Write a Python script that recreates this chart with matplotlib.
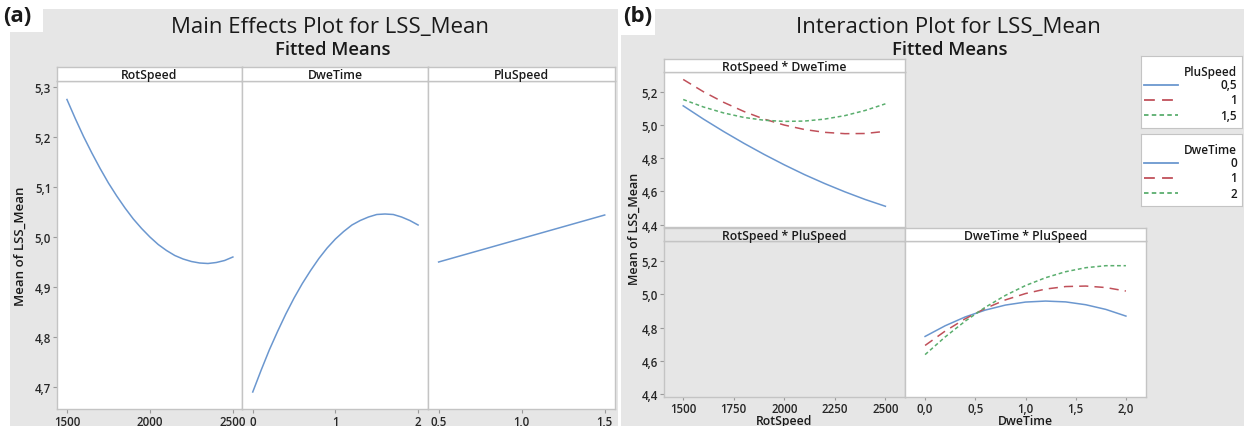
import matplotlib.pyplot as plt
from matplotlib.patches import Rectangle
from matplotlib.lines import Line2D
from matplotlib.ticker import FixedLocator, FuncFormatter

# ---- data ----
rot_x = [1500, 1600, 1700, 1800, 1900, 2000, 2100, 2200, 2300, 2400, 2500]
dwe_x = [0.0, 0.2, 0.4, 0.6, 0.8, 1.0, 1.2, 1.4, 1.6, 1.8, 2.0]
plu_x = [0.5, 1.0, 1.5]

# main effects (fitted means), read at finer steps
main_rot_x = [1500, 1550, 1600, 1650, 1700, 1750, 1800, 1850, 1900, 1950, 2000,
              2050, 2100, 2150, 2200, 2250, 2300, 2350, 2400, 2450, 2500]
main_rot = [5.275, 5.237, 5.201, 5.168, 5.137, 5.108, 5.082, 5.058, 5.036, 5.017, 5.000,
            4.985, 4.973, 4.963, 4.956, 4.951, 4.948, 4.947, 4.949, 4.953, 4.960]
main_dwe_x = [0.0, 0.1, 0.2, 0.3, 0.4, 0.5, 0.6, 0.7, 0.8, 0.9, 1.0,
              1.1, 1.2, 1.3, 1.4, 1.5, 1.6, 1.7, 1.8, 1.9, 2.0]
main_dwe = [4.690, 4.733, 4.774, 4.811, 4.846, 4.878, 4.907, 4.933, 4.957, 4.978, 4.996,
            5.011, 5.024, 5.033, 5.040, 5.045, 5.046, 5.045, 5.040, 5.033, 5.024]
main_plu = [4.950, 4.997, 5.044]

# RotSpeed * DweTime (one curve per DweTime level)
dwe_levels = ['0', '1', '2']
rot_dwe = [
    [5.116, 5.036, 4.961, 4.890, 4.823, 4.760, 4.701, 4.647, 4.597, 4.551, 4.510],
    [5.275, 5.201, 5.137, 5.082, 5.036, 5.000, 4.973, 4.956, 4.948, 4.949, 4.962],
    [5.154, 5.109, 5.073, 5.046, 5.029, 5.022, 5.024, 5.036, 5.057, 5.088, 5.128],
]
# DweTime * PluSpeed (one curve per PluSpeed level)
plu_levels = ['0,5', '1', '1,5']
dwe_plu = [
    [4.748, 4.812, 4.865, 4.906, 4.936, 4.954, 4.960, 4.955, 4.938, 4.910, 4.870],
    [4.694, 4.780, 4.854, 4.916, 4.967, 5.005, 5.032, 5.047, 5.050, 5.041, 5.020],
    [4.639, 4.745, 4.840, 4.923, 4.994, 5.053, 5.100, 5.136, 5.160, 5.172, 5.172],
]

main_yticks = [4.7, 4.8, 4.9, 5.0, 5.1, 5.2, 5.3]
int_yticks = [4.4, 4.6, 4.8, 5.0, 5.2]
rot_ticks_main = [1500, 2000, 2500]
dwe_ticks_main = [0, 1, 2]
plu_ticks_main = [0.5, 1.0, 1.5]
rot_ticks_int = [1500, 1750, 2000, 2250, 2500]
dwe_ticks_int = [0.0, 0.5, 1.0, 1.5, 2.0]

# ---- styling ----
W, H = 1244, 427
BG = '#e6e6e6'
EDGE = '#c4c4c4'
BLUE = '#6b97cf'
RED = '#c0505a'
GREEN = '#5aae6e'
styles = [dict(color=BLUE, ls='-'),
          dict(color=RED, ls=(0, (6, 4))),
          dict(color=GREEN, ls=(0, (2.5, 1.8)))]

plt.rcParams['font.family'] = ['Open Sans', 'DejaVu Sans']
plt.rcParams['text.color'] = '#1a1a1a'
plt.rcParams['lines.solid_joinstyle'] = 'round'
plt.rcParams['lines.dash_joinstyle'] = 'round'

fig = plt.figure(figsize=(W / 100, H / 100), dpi=100)
fig.patch.set_facecolor('white')


def box(x0, y0, x1, y1):
    return [x0 / W, 1 - y1 / H, (x1 - x0) / W, (y1 - y0) / H]


def frect(x0, y0, x1, y1, fc, z):
    fig.patches.append(Rectangle((x0 / W, 1 - y1 / H), (x1 - x0) / W, (y1 - y0) / H,
                                 transform=fig.transFigure, fc=fc, ec='none', zorder=z))


def comma(dec):
    return FuncFormatter(lambda v, _: f'{v:.{dec}f}'.replace('.', ','))


def bold_ticks(ax):
    for t in ax.get_xticklabels() + ax.get_yticklabels():
        t.set_fontweight('semibold')


def panel(x0, x1, y0, y1, strip_top, title, face='white', strip_face='white'):
    ax = fig.add_axes(box(x0, y0, x1, y1))
    ax.set_facecolor(face)
    for s in ax.spines.values():
        s.set_color(EDGE)
        s.set_linewidth(1.0)
    ax.tick_params(direction='out', length=3, width=0.8, color='#9a9a9a',
                   labelsize=8.3, pad=1.2, labelcolor='#262626')
    sa = fig.add_axes(box(x0, strip_top, x1, y0))
    sa.set_facecolor(strip_face)
    sa.set_xticks([])
    sa.set_yticks([])
    for s in sa.spines.values():
        s.set_color(EDGE)
        s.set_linewidth(1.0)
    sa.text(0.5, 0.45, title, ha='center', va='center', fontsize=8.8,
            fontweight='semibold', transform=sa.transAxes)
    return ax


# backgrounds (behind all axes)
frect(10, 10, 618, 427, BG, -3)
frect(0, 0, 43, 33, 'white', -2)
frect(621, 10, 1244, 427, BG, -3)
frect(621, 0, 655, 36, 'white', -2)
fig.text(3 / W, 1 - 17 / H, '(a)', fontsize=16, fontweight='bold', va='center')
fig.text(623 / W, 1 - 17 / H, '(b)', fontsize=16, fontweight='bold', va='center')

# ---- (a) main effects ----
fig.text(330 / W, 1 - 28 / H, 'Main Effects Plot for LSS_Mean', ha='center', va='center', fontsize=16)
fig.text(333 / W, 1 - 50 / H, 'Fitted Means', ha='center', va='center', fontsize=13.3,
         fontweight='semibold')
fig.text(20 / W, 1 - 246 / H, 'Mean of LSS_Mean', ha='center', va='center', rotation=90,
         fontsize=9.5, fontweight='semibold')

main_specs = [
    (57, 242, 'RotSpeed', main_rot_x, main_rot, (1440, 2555), rot_ticks_main, FuncFormatter(lambda v, _: f'{v:.0f}')),
    (242, 428, 'DweTime', main_dwe_x, main_dwe, (-0.13, 2.12), dwe_ticks_main, FuncFormatter(lambda v, _: f'{v:.0f}')),
    (428, 615, 'PluSpeed', plu_x, main_plu, (0.436, 1.562), plu_ticks_main, comma(1)),
]
for i, (x0, x1, name, xs, ys, xl, xt, fmt) in enumerate(main_specs):
    ax = panel(x0, x1, 82, 410, 68, name)
    ax.plot(xs, ys, color=BLUE, lw=1.1)
    ax.set_xlim(*xl)
    ax.set_ylim(4.656, 5.312)
    ax.xaxis.set_major_locator(FixedLocator(xt))
    ax.xaxis.set_major_formatter(fmt)
    ax.yaxis.set_major_locator(FixedLocator(main_yticks))
    ax.yaxis.set_major_formatter(comma(1))
    if i > 0:
        ax.tick_params(axis='y', left=False, labelleft=False)
    bold_ticks(ax)

# ---- (b) interaction ----
fig.text(948 / W, 1 - 28 / H, 'Interaction Plot for LSS_Mean', ha='center', va='center', fontsize=16)
fig.text(950 / W, 1 - 50 / H, 'Fitted Means', ha='center', va='center', fontsize=13.3,
         fontweight='semibold')
fig.text(634 / W, 1 - 229 / H, 'Mean of LSS_Mean', ha='center', va='center', rotation=90,
         fontsize=9, fontweight='semibold')
fig.text(784 / W, 1 - 421.5 / H, 'RotSpeed', ha='center', va='center',
         fontsize=8.8, fontweight='semibold')
fig.text(1025 / W, 1 - 421.5 / H, 'DweTime', ha='center', va='center',
         fontsize=8.8, fontweight='semibold')

int_ylim = (4.385, 5.32)
rot_lim = (1405, 2597)
dwe_lim = (-0.2, 2.2)

# upper-left: RotSpeed * DweTime
ax = panel(664, 905, 73, 228, 60, 'RotSpeed * DweTime')
for ys, st in zip(rot_dwe, styles):
    ax.plot(rot_x, ys, lw=1.1, **st)
ax.set_xlim(*rot_lim)
ax.set_ylim(*int_ylim)
ax.yaxis.set_major_locator(FixedLocator(int_yticks))
ax.yaxis.set_major_formatter(comma(1))
ax.set_xticks([])
bold_ticks(ax)

# lower-left: RotSpeed * PluSpeed (empty)
ax = panel(664, 905, 242, 398, 229, 'RotSpeed * PluSpeed', face=BG, strip_face=BG)
ax.set_xlim(*rot_lim)
ax.set_ylim(*int_ylim)
ax.yaxis.set_major_locator(FixedLocator(int_yticks))
ax.yaxis.set_major_formatter(comma(1))
ax.xaxis.set_major_locator(FixedLocator(rot_ticks_int))
ax.xaxis.set_major_formatter(FuncFormatter(lambda v, _: f'{v:.0f}'))
ax.tick_params(axis='x', length=2.5, pad=0.8)
bold_ticks(ax)

# lower-right: DweTime * PluSpeed
ax = panel(905, 1146, 242, 398, 229, 'DweTime * PluSpeed')
for ys, st in zip(dwe_plu, styles):
    ax.plot(dwe_x, ys, lw=1.1, **st)
ax.set_xlim(*dwe_lim)
ax.set_ylim(*int_ylim)
ax.set_yticks([])
ax.xaxis.set_major_locator(FixedLocator(dwe_ticks_int))
ax.xaxis.set_major_formatter(comma(1))
ax.tick_params(axis='x', length=2.5, pad=0.8)
bold_ticks(ax)

# legends
for (y0, y1), title, labels in [((57, 129), 'PluSpeed', plu_levels),
                                ((135, 207), 'DweTime', dwe_levels)]:
    la = fig.add_axes(box(1141, y0, 1242, y1))
    la.set_facecolor('white')
    la.set_xticks([])
    la.set_yticks([])
    for s in la.spines.values():
        s.set_color(EDGE)
    la.text(0.95, 0.79, title, ha='right', va='center', fontsize=8.5,
            fontweight='semibold', transform=la.transAxes)
    for k, (lab, st) in enumerate(zip(labels, styles)):
        yy = 0.6 - 0.21 * k
        la.add_line(Line2D([0.03, 0.37], [yy, yy], lw=1.3, transform=la.transAxes, **st))
        la.text(0.95, yy, lab, ha='right', va='center', fontsize=8.5,
                fontweight='semibold', transform=la.transAxes)

fig.savefig('out.png', dpi=100)
